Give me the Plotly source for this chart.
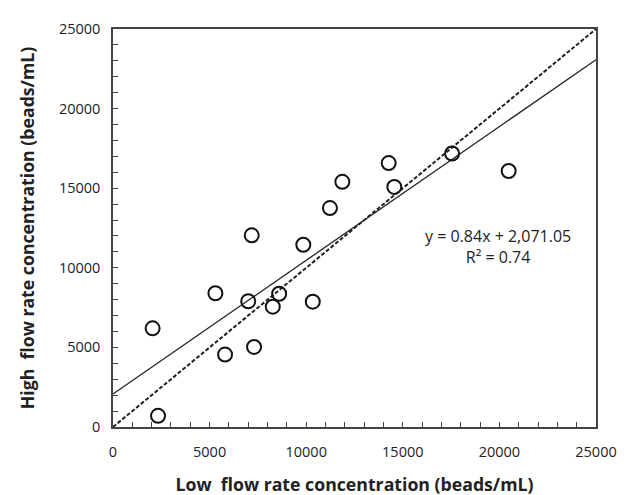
import plotly.graph_objects as go

low_flow = [2050, 2330, 5300, 5800, 7000, 7300, 8270, 8600, 10340, 7180, 9850,
            11230, 11870, 14270, 14560, 17550, 20480]
high_flow = [6200, 700, 8400, 4550, 7900, 5030, 7560, 8370, 7870, 12040, 11450,
             13750, 15400, 16580, 15080, 17180, 16080]

slope = 0.84
intercept = 2071.05
fit_x = [0, 25000]
fit_y = [intercept + slope * v for v in fit_x]
ident_x = [0, 25000]
ident_y = [0, 25000]

FONT = "Open Sans"
fig = go.Figure()
fig.add_trace(go.Scatter(x=ident_x, y=ident_y, mode="lines",
                         line=dict(color="#222222", width=2, dash="4px,2px"),
                         showlegend=False, hoverinfo="skip"))
fig.add_trace(go.Scatter(x=fit_x, y=fit_y, mode="lines",
                         line=dict(color="#222222", width=1.3),
                         showlegend=False, hoverinfo="skip"))
fig.add_trace(go.Scatter(x=low_flow, y=high_flow, mode="markers",
                         marker=dict(symbol="circle-open", size=14,
                                     line=dict(color="#111111", width=2),
                                     color="#111111"),
                         showlegend=False))

axis_common = dict(
    showgrid=False, zeroline=False, showline=True, linecolor="#444444",
    linewidth=1.5, mirror=True, ticks="inside", ticklen=5, tickcolor="#444444",
    tickwidth=1, dtick=5000, tick0=0, tickformat="d",
    minor=dict(ticks="inside", dtick=1000, ticklen=5, tickcolor="#444444"),
    tickfont=dict(family=FONT, size=14.5, color="#222222"),
)
fig.update_xaxes(range=[0, 25000], **axis_common, ticklabelstandoff=11,
                 title=dict(text="<b>Low  flow rate concentration (beads/mL)</b>",
                            font=dict(family=FONT, size=17.7, color="#222222"),
                            standoff=18))
fig.update_yaxes(range=[0, 25000], **axis_common, ticklabelstandoff=8,
                 title=dict(text="<b>High  flow rate concentration (beads/mL)</b>",
                            font=dict(family=FONT, size=17.7, color="#222222"),
                            standoff=20))

fig.add_annotation(x=19930, y=11340, xref="x", yref="y",
                   text="y = 0.84x + 2,071.05<br>R² = 0.74", showarrow=False,
                   align="center",
                   font=dict(family=FONT, size=16, color="#222222"))

fig.update_layout(width=628, height=495, plot_bgcolor="white", paper_bgcolor="white",
                  margin=dict(l=105, r=40, t=11, b=75))
fig.write_html("out.html")
